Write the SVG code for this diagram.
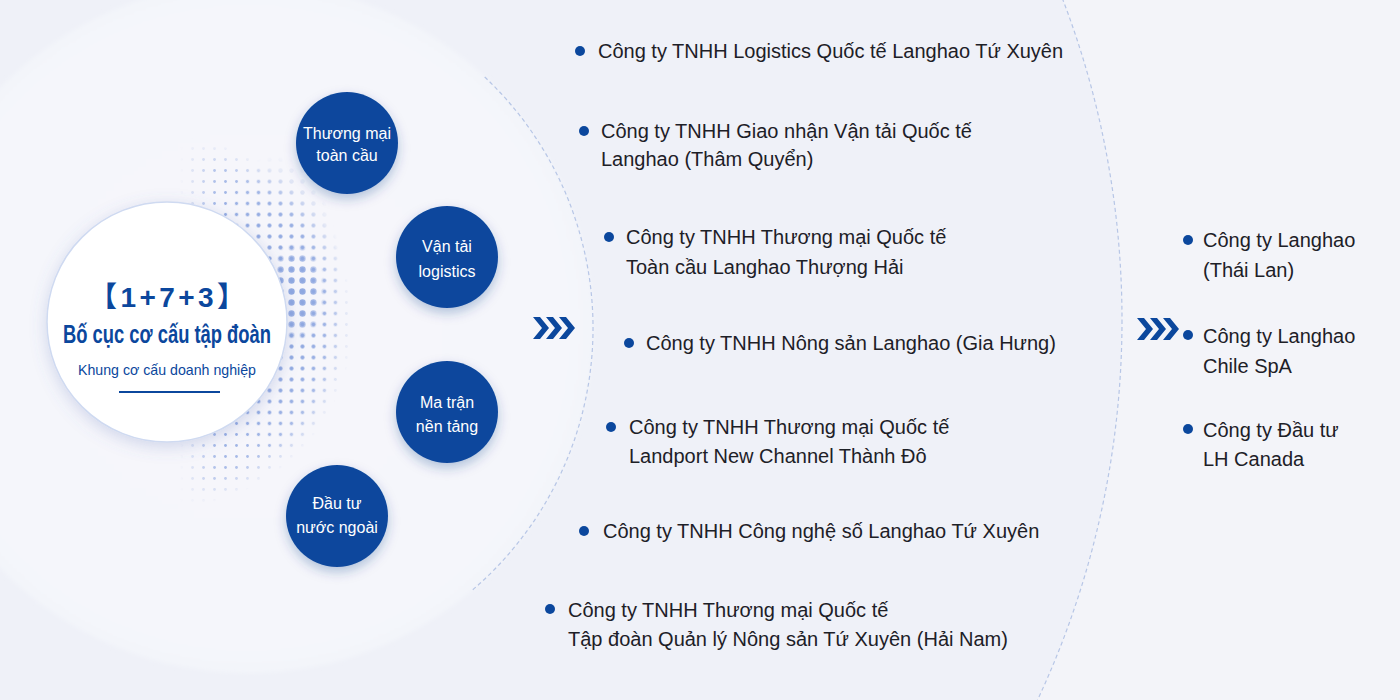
<svg xmlns="http://www.w3.org/2000/svg" width="1400" height="700" viewBox="0 0 1400 700">
<defs>
<style>
.t{font-family:"Liberation Sans","Noto Sans CJK SC",sans-serif;}
.item{font-size:20px;fill:#1d2027;}
.ritem{font-size:20px;fill:#1d2027;}
.node-c{fill:#0b479d;}
.node-t{font-size:16px;fill:#ffffff;text-anchor:middle;}
.bul{fill:#0b479d;}
.chev{fill:#0b479d;}
.dash{fill:none;stroke:#b7c6e6;stroke-width:1.2;stroke-dasharray:4 3;}
</style>
<radialGradient id="innerFill" gradientUnits="userSpaceOnUse" cx="248" cy="328" r="345">
<stop offset="0" stop-color="#f6f7fb"/>
<stop offset="0.9" stop-color="#f5f6fb"/>
<stop offset="1" stop-color="#f3f5fa"/>
</radialGradient>
<pattern id="dotS" patternUnits="userSpaceOnUse" x="0" y="0" width="11" height="11">
<circle cx="5.5" cy="5.5" r="1.4" fill="#93abe2"/>
</pattern>
<pattern id="dotM" patternUnits="userSpaceOnUse" x="0" y="0" width="11" height="11">
<circle cx="5.5" cy="5.5" r="2.2" fill="#8ea7e0"/>
</pattern>
<pattern id="dotL" patternUnits="userSpaceOnUse" x="0" y="0" width="11" height="11">
<circle cx="5.5" cy="5.5" r="3.2" fill="#8ea7e0"/>
</pattern>
<radialGradient id="gS" gradientUnits="userSpaceOnUse" cx="167" cy="322" r="200">
<stop offset="0.6" stop-color="#fff" stop-opacity="1"/>
<stop offset="0.8" stop-color="#fff" stop-opacity="0.75"/>
<stop offset="0.93" stop-color="#fff" stop-opacity="0"/>
</radialGradient>
<radialGradient id="gM" gradientUnits="userSpaceOnUse" cx="275" cy="305" r="100" gradientTransform="translate(275 305) scale(0.7 1.5) translate(-275 -305)">
<stop offset="0" stop-color="#fff" stop-opacity="1"/>
<stop offset="0.6" stop-color="#fff" stop-opacity="0.6"/>
<stop offset="1" stop-color="#fff" stop-opacity="0"/>
</radialGradient>
<radialGradient id="gL" gradientUnits="userSpaceOnUse" cx="296" cy="292" r="60" gradientTransform="translate(296 292) scale(0.5 0.85) translate(-296 -292)">
<stop offset="0" stop-color="#fff" stop-opacity="1"/>
<stop offset="0.6" stop-color="#fff" stop-opacity="0.8"/>
<stop offset="1" stop-color="#fff" stop-opacity="0"/>
</radialGradient>
<linearGradient id="gLeft" gradientUnits="userSpaceOnUse" x1="180" y1="0" x2="220" y2="0">
<stop offset="0" stop-color="#fff" stop-opacity="0"/>
<stop offset="1" stop-color="#fff" stop-opacity="1"/>
</linearGradient>
<mask id="mLeft" maskUnits="userSpaceOnUse" x="0" y="0" width="1400" height="700"><rect x="150" y="100" width="260" height="450" fill="url(#gLeft)"/></mask>
<mask id="mS" maskUnits="userSpaceOnUse" x="0" y="0" width="1400" height="700"><rect x="150" y="100" width="260" height="450" fill="url(#gS)" mask="url(#mLeft)"/></mask>
<mask id="mM" maskUnits="userSpaceOnUse" x="0" y="0" width="1400" height="700"><rect x="150" y="100" width="260" height="450" fill="url(#gM)" mask="url(#mLeft)"/></mask>
<mask id="mL" maskUnits="userSpaceOnUse" x="0" y="0" width="1400" height="700"><rect x="150" y="100" width="260" height="450" fill="url(#gL)"/></mask>
<filter id="nodeSh" x="-40%" y="-40%" width="180%" height="190%">
<feDropShadow dx="0" dy="5" stdDeviation="6" flood-color="#0b3a86" flood-opacity="0.28"/>
</filter>
<filter id="coreSh" x="-30%" y="-30%" width="160%" height="160%">
<feDropShadow dx="0" dy="4" stdDeviation="8" flood-color="#5a74b8" flood-opacity="0.25"/>
</filter>
<filter id="soft" x="-10%" y="-10%" width="120%" height="120%">
<feGaussianBlur stdDeviation="2"/>
</filter>
<path id="chevron" d="M0,0 L7,0 L16,11 L7,22 L0,22 L9,11 Z"/>
</defs>

<rect x="0" y="0" width="1400" height="700" fill="#f3f4f9"/>

<g id="background-arcs">
<circle cx="225" cy="320" r="897" fill="#eff1f8"/>
<circle cx="225" cy="320" r="897" class="dash"/>
<circle cx="248" cy="328" r="345" fill="url(#innerFill)" filter="url(#soft)"/>
<path class="dash" d="M484.7,77 A345,345 0 0 1 472.5,590"/>
</g>

<g id="halftone">
<rect x="150" y="100" width="260" height="450" fill="url(#dotS)" mask="url(#mS)"/>
<rect x="150" y="100" width="260" height="450" fill="url(#dotM)" mask="url(#mM)"/>
<rect x="150" y="100" width="260" height="450" fill="url(#dotL)" mask="url(#mL)"/>
</g>

<g id="core">
<circle cx="167" cy="322" r="120" fill="#ffffff" stroke="#cfdaf1" stroke-width="1.5" filter="url(#coreSh)"/>
<text class="t" x="167" y="307" text-anchor="middle" font-size="28" font-weight="bold" fill="#0b479d" textLength="156" lengthAdjust="spacing">【1+7+3】</text>
<text class="t" x="167" y="343" text-anchor="middle" font-size="25" font-weight="bold" fill="#0b479d" textLength="208" lengthAdjust="spacingAndGlyphs">Bố cục cơ cấu tập đoàn</text>
<text class="t" x="167" y="375" text-anchor="middle" font-size="15" fill="#0b479d" textLength="178" lengthAdjust="spacingAndGlyphs">Khung cơ cấu doanh nghiệp</text>
<line x1="119" y1="392" x2="220" y2="392" stroke="#0b479d" stroke-width="2"/>
</g>

<g id="node-thuong-mai">
<circle class="node-c" cx="347" cy="143" r="51" filter="url(#nodeSh)"/>
<text class="t node-t" x="347" y="139" font-size="15">Thương mại</text>
<text class="t node-t" x="347" y="161" font-size="15">toàn cầu</text>
</g>
<g id="node-van-tai">
<circle class="node-c" cx="447" cy="257" r="51" filter="url(#nodeSh)"/>
<text class="t node-t" x="447" y="252">Vận tải</text>
<text class="t node-t" x="447" y="277">logistics</text>
</g>
<g id="node-ma-tran">
<circle class="node-c" cx="447" cy="412" r="51" filter="url(#nodeSh)"/>
<text class="t node-t" x="447" y="408">Ma trận</text>
<text class="t node-t" x="447" y="432">nền tảng</text>
</g>
<g id="node-dau-tu">
<circle class="node-c" cx="337" cy="516" r="51" filter="url(#nodeSh)"/>
<text class="t node-t" x="337" y="509">Đầu tư</text>
<text class="t node-t" x="337" y="533">nước ngoài</text>
</g>

<g id="connectors">
<use href="#chevron" class="chev" x="533" y="317"/>
<use href="#chevron" class="chev" x="546" y="317"/>
<use href="#chevron" class="chev" x="559" y="317"/>
<use href="#chevron" class="chev" x="1137" y="318"/>
<use href="#chevron" class="chev" x="1150" y="318"/>
<use href="#chevron" class="chev" x="1163" y="318"/>
</g>

<g id="item-1">
<circle class="bul" cx="580" cy="51" r="5"/>
<text class="t item" x="598" y="58">Công ty TNHH Logistics Quốc tế Langhao Tứ Xuyên</text>
</g>
<g id="item-2">
<circle class="bul" cx="584" cy="131" r="5"/>
<text class="t item" x="601" y="138">Công ty TNHH Giao nhận Vận tải Quốc tế</text>
<text class="t item" x="601" y="166">Langhao (Thâm Quyển)</text>
</g>
<g id="item-3">
<circle class="bul" cx="609" cy="237" r="5"/>
<text class="t item" x="626" y="244">Công ty TNHH Thương mại Quốc tế</text>
<text class="t item" x="626" y="274">Toàn cầu Langhao Thượng Hải</text>
</g>
<g id="item-4">
<circle class="bul" cx="629" cy="343" r="5"/>
<text class="t item" x="646" y="350">Công ty TNHH Nông sản Langhao (Gia Hưng)</text>
</g>
<g id="item-5">
<circle class="bul" cx="611" cy="427" r="5"/>
<text class="t item" x="629" y="434">Công ty TNHH Thương mại Quốc tế</text>
<text class="t item" x="629" y="463">Landport New Channel Thành Đô</text>
</g>
<g id="item-6">
<circle class="bul" cx="584" cy="531" r="5"/>
<text class="t item" x="603" y="538">Công ty TNHH Công nghệ số Langhao Tứ Xuyên</text>
</g>
<g id="item-7">
<circle class="bul" cx="550" cy="609" r="5"/>
<text class="t item" x="568" y="617">Công ty TNHH Thương mại Quốc tế</text>
<text class="t item" x="568" y="646">Tập đoàn Quản lý Nông sản Tứ Xuyên (Hải Nam)</text>
</g>

<g id="overseas-1">
<circle class="bul" cx="1188" cy="240" r="5"/>
<text class="t ritem" x="1203" y="247">Công ty Langhao</text>
<text class="t ritem" x="1203" y="277">(Thái Lan)</text>
</g>
<g id="overseas-2">
<circle class="bul" cx="1188" cy="335" r="5"/>
<text class="t ritem" x="1203" y="343">Công ty Langhao</text>
<text class="t ritem" x="1203" y="373">Chile SpA</text>
</g>
<g id="overseas-3">
<circle class="bul" cx="1188" cy="429" r="5"/>
<text class="t ritem" x="1203" y="437">Công ty Đầu tư</text>
<text class="t ritem" x="1203" y="466">LH Canada</text>
</g>
</svg>
